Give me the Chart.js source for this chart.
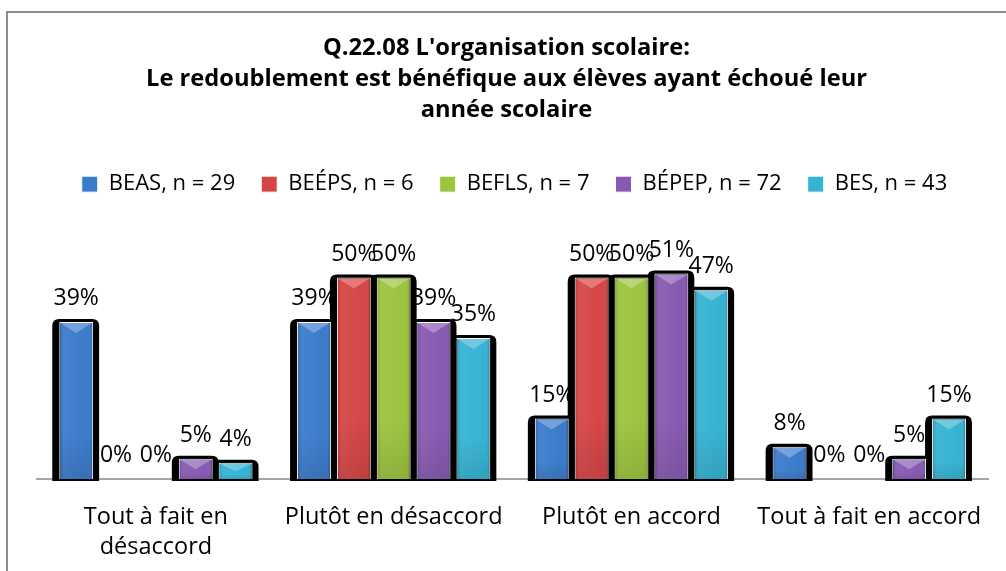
<!DOCTYPE html>
<html>
<head>
<meta charset="utf-8">
<script src="https://cdn.jsdelivr.net/npm/chart.js@4.4.1/dist/chart.umd.min.js"></script>
<style>
  html, body { margin: 0; padding: 0; background: #fff; }
  canvas { display: block; }
</style>
</head>
<body>
<canvas id="redoublementChart" width="1006" height="571"></canvas>
<script>
const categories = [['Tout à fait en', 'désaccord'], 'Plutôt en désaccord', 'Plutôt en accord', 'Tout à fait en accord'];
const seriesNames = ['BEAS, n = 29', 'BEÉPS, n = 6', 'BEFLS, n = 7', 'BÉPEP, n = 72', 'BES, n = 43'];
const beas = [39, 39, 15, 8];
const beeps = [0, 50, 50, 0];
const befls = [0, 50, 50, 0];
const bepep = [5, 39, 51, 5];
const bes = [4, 35, 47, 15];
const seriesColors = ['#3b7bcb', '#d64545', '#9cc43e', '#8759b2', '#35b3d3'];

const FONT = '"Open Sans", "Noto Sans", sans-serif';

function roundedRect(ctx, x, y, w, h, r) {
    r = Math.min(r, w / 2, h / 2);
    ctx.beginPath();
    ctx.moveTo(x + r, y);
    ctx.lineTo(x + w - r, y);
    ctx.quadraticCurveTo(x + w, y, x + w, y + r);
    ctx.lineTo(x + w, y + h);
    ctx.lineTo(x, y + h);
    ctx.lineTo(x, y + r);
    ctx.quadraticCurveTo(x, y, x + r, y);
    ctx.closePath();
}

function eachBar(chart, fn) {
    chart.data.datasets.forEach((ds, di) => {
        const meta = chart.getDatasetMeta(di);
        if (meta.hidden) return;
        meta.data.forEach((bar, i) => {
            const p = bar.getProps(['x', 'y', 'base', 'width'], true);
            fn(p, ds.data[i], di, i);
        });
    });
}

// grey frame around the whole chart; title centred on the page, not the plot
const framePlugin = {
    id: 'frame',
    afterLayout(chart) {
        if (chart.titleBlock) {
            chart.titleBlock.left -= 8;
            chart.titleBlock.right -= 8;
        }
    },
    beforeDraw(chart) {
        const ctx = chart.ctx;
        ctx.save();
        ctx.fillStyle = '#fff';
        ctx.fillRect(0, 0, chart.width, chart.height);
        ctx.strokeStyle = '#8c8c8c';
        ctx.lineWidth = 2;
        ctx.strokeRect(7, 12, chart.width + 20, chart.height + 20);
        ctx.restore();
    }
};

// value labels, then the dark drop shadow behind every bar
const shadowPlugin = {
    id: 'barShadow',
    beforeDatasetsDraw(chart) {
        const ctx = chart.ctx;
        ctx.save();
        ctx.font = '23px ' + FONT;
        ctx.fillStyle = '#000';
        ctx.textAlign = 'center';
        ctx.textBaseline = 'alphabetic';
        eachBar(chart, (p, v) => {
            ctx.fillText(v + '%', p.x, Math.min(p.y, p.base) - 17);
        });
        ctx.fillStyle = '#000';
        eachBar(chart, (p, v) => {
            if (!v) return;
            const left = p.x - p.width / 2 - 7;
            const right = p.x + p.width / 2 + 6;
            roundedRect(ctx, left, p.y - 3, right - left, p.base + 2 - (p.y - 3), 7);
            ctx.fill();
        });
        ctx.restore();
    }
};

// bevel highlights on top of the bars
const glossPlugin = {
    id: 'barGloss',
    afterDatasetsDraw(chart) {
        const ctx = chart.ctx;
        ctx.save();
        eachBar(chart, (p, v) => {
            if (!v) return;
            const l = p.x - p.width / 2 + 1;
            const r = p.x + p.width / 2 - 1;
            const t = p.y + 1;
            const b = p.base;
            const h = b - t;
            ctx.save();
            ctx.beginPath();
            ctx.rect(l, t, r - l, h);
            ctx.clip();
            const hg = ctx.createLinearGradient(l, 0, r, 0);
            hg.addColorStop(0, 'rgba(0,0,0,0.10)');
            hg.addColorStop(0.12, 'rgba(255,255,255,0.06)');
            hg.addColorStop(0.85, 'rgba(255,255,255,0)');
            hg.addColorStop(1, 'rgba(0,0,0,0.15)');
            ctx.fillStyle = hg;
            ctx.fillRect(l, t, r - l, h);
            const vg = ctx.createLinearGradient(0, t, 0, b);
            vg.addColorStop(0, 'rgba(0,0,0,0)');
            vg.addColorStop(0.7, 'rgba(0,0,0,0)');
            vg.addColorStop(1, 'rgba(0,0,0,0.10)');
            ctx.fillStyle = vg;
            ctx.fillRect(l, t, r - l, h);
            const depth = Math.min(10, h * 0.5);
            ctx.beginPath();
            ctx.moveTo(l, t);
            ctx.lineTo(r, t);
            ctx.lineTo(p.x, t + depth);
            ctx.closePath();
            ctx.fillStyle = 'rgba(255,255,255,0.28)';
            ctx.fill();
            ctx.restore();
        });
        ctx.restore();
    }
};

const seriesData = [beas, beeps, befls, bepep, bes];

new Chart(document.getElementById('redoublementChart').getContext('2d'), {
    type: 'bar',
    data: {
        labels: categories,
        datasets: seriesData.map((values, i) => ({
            label: seriesNames[i],
            data: values,
            backgroundColor: seriesColors[i],
            borderColor: '#ffffff',
            borderWidth: 1,
            categoryPercentage: 0.838,
            barPercentage: 0.85
        }))
    },
    options: {
        responsive: false,
        animation: false,
        devicePixelRatio: 1,
        layout: { padding: { left: 37, right: 14, top: 0, bottom: -15 } },
        plugins: {
            title: {
                display: true,
                text: ["Q.22.08 L'organisation scolaire:", 'Le redoublement est bénéfique aux élèves ayant échoué leur', 'année scolaire'],
                color: '#000',
                font: { family: FONT, size: 23.7, weight: 'bold', lineHeight: 1.31 },
                padding: { top: 33, bottom: 21 }
            },
            legend: {
                position: 'top',
                labels: {
                    color: '#000',
                    font: { family: FONT, size: 22 },
                    boxWidth: 16,
                    boxHeight: 16,
                    padding: 26
                }
            },
            tooltip: { enabled: false }
        },
        scales: {
            x: {
                grid: { display: false, drawTicks: false },
                border: { display: true, color: '#a6a6a6', width: 2 },
                ticks: {
                    color: '#000',
                    font: { family: FONT, size: 23.5, lineHeight: 1.3 },
                    padding: 23,
                    maxRotation: 0,
                    autoSkip: false
                }
            },
            y: {
                display: false,
                min: 0,
                max: 68
            }
        }
    },
    plugins: [framePlugin, shadowPlugin, glossPlugin]
});
</script>
</body>
</html>
